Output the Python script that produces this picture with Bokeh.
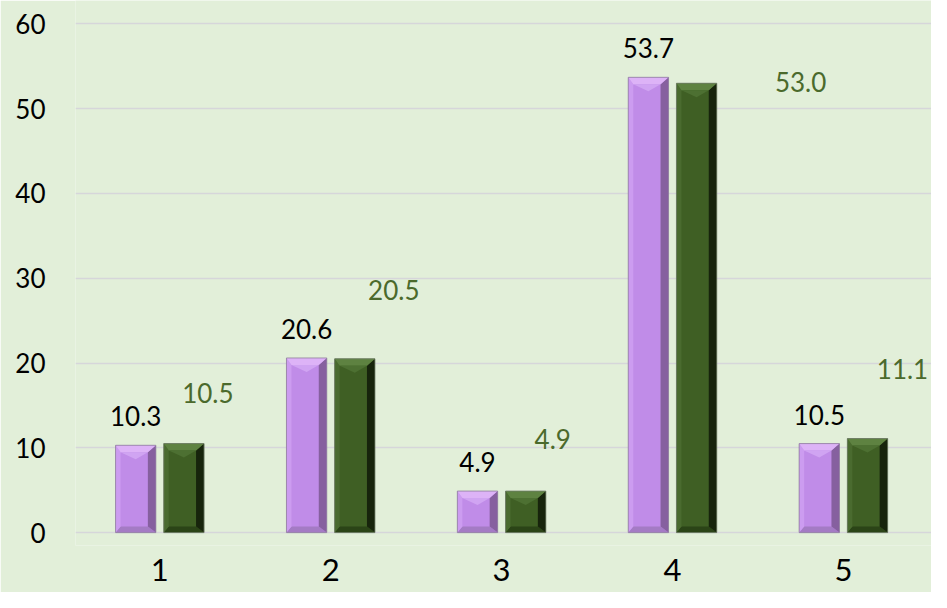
from bokeh.plotting import figure
from bokeh.models import ColumnDataSource, FixedTicker, Range1d, LabelSet
from bokeh.core.properties import value
from bokeh.embed import file_html
from bokeh.resources import INLINE

# ---- data ----
categories = ["1", "2", "3", "4", "5"]
series_a = [10.3, 20.6, 4.9, 53.7, 10.5]   # purple
series_b = [10.5, 20.5, 4.9, 53.0, 11.1]   # green
y_ticks = [0, 10, 20, 30, 40, 50, 60]
# manual label placement of the green series (screen px, like the source chart)
label_b_dx = [24, 39, 27, 104, 35]
label_b_dy = [51, 69, 52, 1, 70]

W, H = 931, 592
BL, BB = 75, 47
x_start, x_end = 0.5067, 5.5155
y_start, y_end = -1.52, 62.76
frame_w = W - BL
frame_h = H - BB
sx = (x_end - x_start) / frame_w
sy = (y_end - y_start) / frame_h

BG = "#E2EFD9"
FONT = "Lato"

p = figure(width=W, height=H, output_backend="svg", toolbar_location=None,
           x_range=Range1d(x_start, x_end), y_range=Range1d(y_start, y_end),
           min_border_left=BL, min_border_right=0, min_border_top=0,
           min_border_bottom=BB)
p.background_fill_color = BG
p.border_fill_color = BG
p.outline_line_color = None

p.xgrid.grid_line_color = None
p.ygrid.grid_line_color = "#D6D6DA"
p.ygrid.grid_line_width = 1.6
p.yaxis.ticker = FixedTicker(ticks=y_ticks)
p.xaxis.ticker = FixedTicker(ticks=list(range(1, len(categories) + 1)))
p.xaxis.major_label_overrides = {i + 1: c for i, c in enumerate(categories)}
for ax in (p.xaxis, p.yaxis):
    ax.axis_line_color = None
    ax.major_tick_line_color = None
    ax.minor_tick_line_color = None
    ax.major_label_text_font = FONT
    ax.major_label_text_color = "#000000"
p.yaxis.major_label_text_font_size = "26px"
p.xaxis.major_label_text_font_size = "31px"
p.yaxis.major_label_standoff = 24
p.xaxis.major_label_standoff = 7

off = 24.1 * sx
bw = 40.3 * sx

styles = {
    "a": dict(main="#C08CE8", top="#DDB3F7", v="#D0A4F2", left="#CC9CF0",
              right="#86609F", bottom="#A47BC4", line="#8E7F9C"),
    "b": dict(main="#3F5F24", top="#5E8241", v="#4D7032", left="#4A6B2F",
              right="#17240C", bottom="#2B4417", line="#6E7A66"),
}

def draw_bars(values, sign, st):
    ls, rs, tb, bb, tv = 5 * sx, 8 * sx, 7 * sy, 6 * sy, 7 * sy
    xs_main, ys_main = [], []
    parts = {k: ([], []) for k in ("left", "right", "top", "v", "bottom")}
    for i, v in enumerate(values):
        c = i + 1 + sign * off
        L, R, T = c - bw / 2, c + bw / 2, v
        xs_main.append([L, R, R, L]); ys_main.append([0, 0, T, T])
        polys = {
            "left": ([L, L + ls, L + ls, L], [0, bb, T - tb, T]),
            "right": ([R, R, R - rs, R - rs], [0, T, T - tb, bb]),
            "top": ([L, R, R - rs, L + ls], [T, T, T - tb, T - tb]),
            "v": ([L + ls, R - rs, c], [T - tb, T - tb, T - tb - tv]),
            "bottom": ([L, R, R - rs, L + ls], [0, 0, bb, bb]),
        }
        for k, (px, py) in polys.items():
            parts[k][0].append(px); parts[k][1].append(py)
    p.patches(xs_main, ys_main, fill_color=st["main"], line_color=None)
    for k in ("bottom", "right", "left", "top", "v"):
        p.patches(parts[k][0], parts[k][1], fill_color=st[k], line_color=None)
    p.patches(xs_main, ys_main, fill_color=None, line_color=st["line"],
              line_width=1, line_alpha=0.8)

draw_bars(series_a, -1, styles["a"])
draw_bars(series_b, +1, styles["b"])

xa = [i + 1 - off for i in range(len(series_a))]
xb = [i + 1 + off for i in range(len(series_b))]
src_a = ColumnDataSource(dict(x=xa, y=series_a, t=[f"{v:.1f}" for v in series_a]))
src_b = ColumnDataSource(dict(x=xb, y=series_b, t=[f"{v:.1f}" for v in series_b],
                              dx=label_b_dx, dy=label_b_dy))
la = LabelSet(x="x", y="y", text="t", source=src_a, x_offset=0, y_offset=29,
              text_align="center", text_baseline="middle",
              text_font=value(FONT), text_font_size=value("26px"),
              text_color="#000000")
lb = LabelSet(x="x", y="y", text="t", source=src_b, x_offset="dx", y_offset="dy",
              text_align="center", text_baseline="middle",
              text_font=value(FONT), text_font_size=value("26px"),
              text_color="#4B6A2C")
p.add_layout(la)
p.add_layout(lb)

open("out.html", "w").write(file_html(p, INLINE))
